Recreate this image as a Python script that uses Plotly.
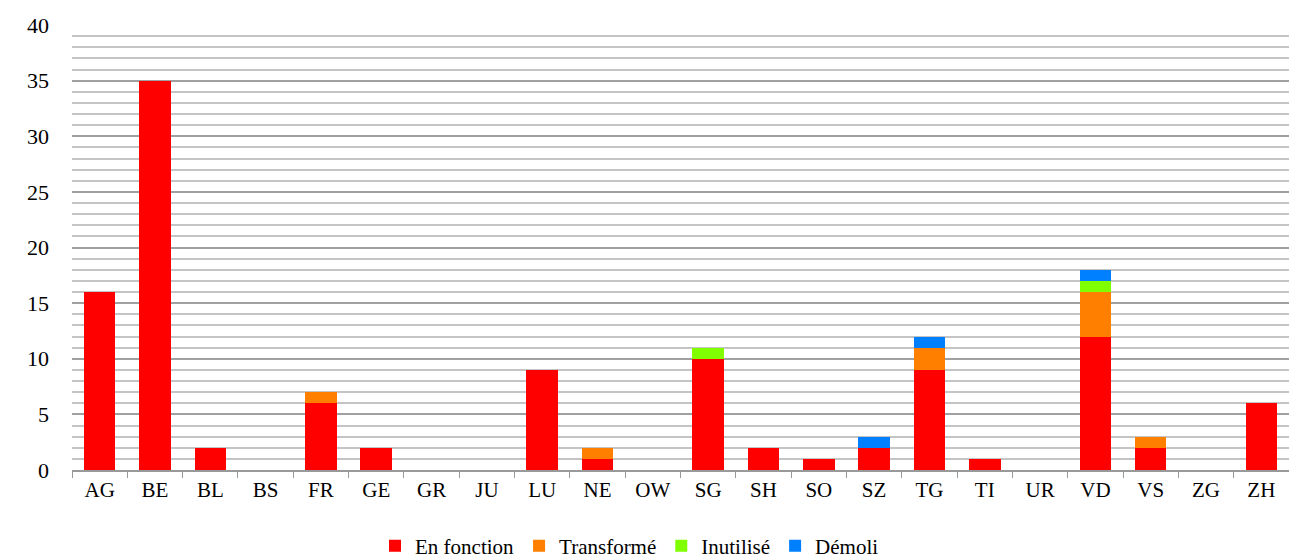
import plotly.graph_objects as go

cantons = ["AG","BE","BL","BS","FR","GE","GR","JU","LU","NE","OW","SG","SH","SO","SZ","TG","TI","UR","VD","VS","ZG","ZH"]
en_fonction = [16,35,2,0,6,2,0,0,9,1,0,10,2,1,2,9,1,0,12,2,0,6]
transforme  = [0,0,0,0,1,0,0,0,0,1,0,0,0,0,0,2,0,0,4,1,0,0]
inutilise   = [0,0,0,0,0,0,0,0,0,0,0,1,0,0,0,0,0,0,1,0,0,0]
demoli      = [0,0,0,0,0,0,0,0,0,0,0,0,0,0,1,1,0,0,1,0,0,0]

series = [("En fonction", en_fonction, "#FF0000"),
          ("Transformé", transforme, "#FF8000"),
          ("Inutilisé", inutilise, "#80FF00"),
          ("Démoli", demoli, "#0080FF")]

fig = go.Figure()
for name, vals, col in series:
    fig.add_trace(go.Bar(x=cantons, y=vals, name=name,
                         marker=dict(color=col, line=dict(width=0))))

font = "Liberation Serif, DejaVu Serif, serif"
fig.update_layout(
    barmode="stack", bargap=0.43,
    width=1289, height=560,
    margin=dict(l=72, r=0, t=25, b=90, autoexpand=False),
    paper_bgcolor="white", plot_bgcolor="white",
    font=dict(family=font, size=21, color="black"),
    legend=dict(orientation="h", x=0.5 - 51 / 1217, xanchor="center",
                y=-(546 - 470) / 445, yanchor="middle",
                font=dict(size=21), traceorder="normal", itemwidth=30),
    showlegend=True,
)
fig.update_xaxes(type="category", tickson="boundaries", ticks="outside", ticklen=6,
                 tickcolor="#999999", showline=True, linecolor="#999999", linewidth=1.5,
                 showgrid=False, tickfont=dict(size=21), automargin=False)
fig.update_yaxes(range=[0, 40], dtick=5, showgrid=True, gridcolor="#a0a0a0", gridwidth=1.5,
                 zeroline=False, showline=False, ticks="", ticklabelstandoff=22,
                 tickfont=dict(size=22), automargin=False,
                 minor=dict(dtick=1, showgrid=True, gridcolor="#c4c4c4", gridwidth=1.5))
fig.write_html("out.html", config={"displayModeBar": False},
               post_script="document.body.style.margin='0';document.body.style.overflow='hidden';")
